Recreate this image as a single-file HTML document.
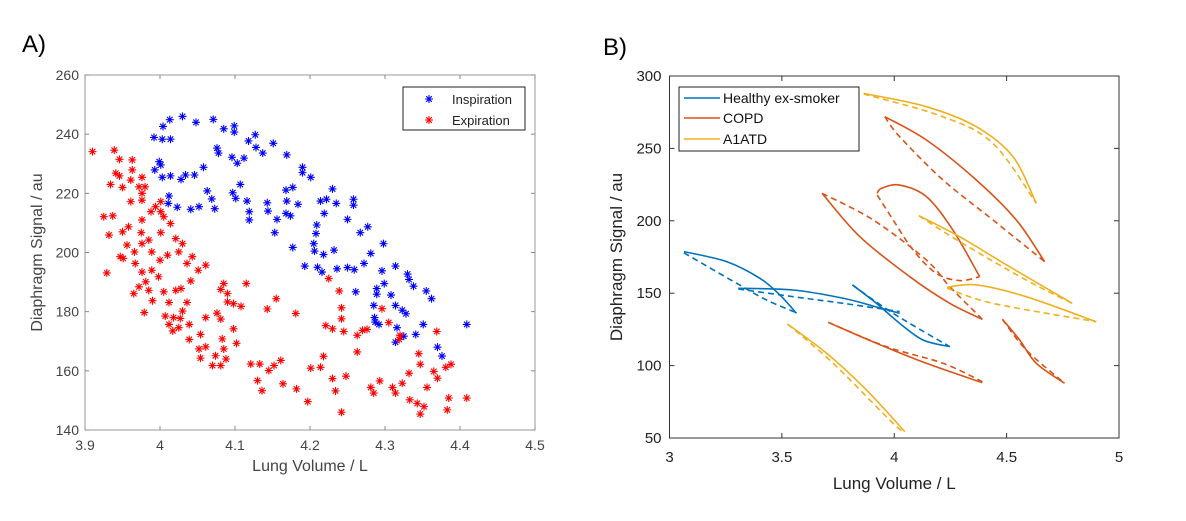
<!DOCTYPE html>
<html><head><meta charset="utf-8"><style>
body{margin:0;background:#fff;width:1186px;height:516px;overflow:hidden}
svg text{font-family:"Liberation Sans",Arial,sans-serif}
</style></head><body>
<svg id="svg" width="1186" height="516" xmlns="http://www.w3.org/2000/svg">
<text x="22" y="52" font-size="24" fill="#000">A)</text>
<text x="603" y="55" font-size="24" fill="#000">B)</text>
<g id="ga"></g>
<g id="gb"></g>
</svg>
<script>
// ---- Panel A data ----
const aXTicks=[3.9,4,4.1,4.2,4.3,4.4,4.5];
const aYTicks=[140,160,180,200,220,240,260];
const inspX=[4.013,4.030,4.048,4.071,4.004,3.992,4.003,4.014,4.085,4.099,4.099,4.127,4.118,4.128,4.137,4.151,4.169,4.076,4.078,4.096,4.112,4.103,3.999,4.001,3.993,4.003,4.014,4.028,4.034,4.046,4.058,4.107,4.097,4.101,4.116,4.063,4.069,4.073,4.012,4.011,4.023,4.041,4.052,4.119,4.119,4.143,4.144,4.156,4.153,4.169,4.168,4.177,4.168,4.174,4.184,4.190,4.190,4.201,4.230,4.214,4.222,4.235,4.219,4.258,4.258,4.250,4.209,4.208,4.205,4.206,4.218,4.232,4.177,4.267,4.277,4.298,4.281,4.272,4.193,4.210,4.216,4.236,4.250,4.259,4.261,4.289,4.289,4.299,4.296,4.314,4.330,4.332,4.338,4.308,4.355,4.362,4.285,4.314,4.323,4.328,4.286,4.287,4.292,4.316,4.314,4.325,4.341,4.351,4.409,4.370,4.376];
const inspY=[244.9,246,244,245,242.6,238.9,238.3,238.3,241.8,242.8,240.7,239.8,237.7,235.5,233.6,236.9,233,235.3,233.6,232.2,231.9,230.2,230.7,229.6,227.9,225.4,225.9,224.7,226.2,226.2,228.8,223,220.2,218.3,217.4,220.8,218.1,214.8,219.1,216.6,215.3,214.6,215.5,213.8,211,216.8,214,211.2,206.7,217.4,221.1,222,213.2,212.4,216.3,228.8,227,225.4,221.5,217.4,218,216.6,213.2,218,216,211.2,209.3,206.4,203,200.5,199.3,200.8,201.7,206.7,208.7,203,199.7,196.3,195.4,195,193.4,194.5,194.9,194.2,186.7,187.8,185.9,189.5,193.8,195.4,192.7,190.9,188.6,185.6,187,184.4,182.1,182.1,180.5,179.3,178,176.5,175.7,174.6,169.7,171.7,172.3,175.7,175.7,168,165];
const expX=[3.910,3.939,3.946,3.963,3.963,3.941,3.946,3.934,3.950,3.961,3.976,3.972,3.980,3.976,3.961,3.976,3.994,4.001,3.988,4.001,4.005,4.014,3.925,3.937,3.976,3.932,3.950,3.958,3.975,3.985,4.001,3.956,3.947,3.951,3.966,3.976,3.989,4.0,4.010,4.021,4.030,4.025,4.043,4.036,4.061,4.051,3.967,3.976,3.989,3.998,3.981,3.929,3.972,3.985,4.005,4.021,4.028,4.041,3.965,3.990,4.012,4.036,4.030,3.979,4.007,4.018,4.027,4.012,4.025,4.017,4.039,4.039,4.061,4.054,4.052,4.061,4.054,4.074,4.085,4.081,4.090,4.090,4.098,4.108,4.115,4.076,4.081,4.098,4.083,4.085,4.070,4.081,4.088,4.102,4.121,4.133,4.130,4.136,4.145,4.152,4.161,4.143,4.155,4.164,4.181,4.182,4.197,4.201,4.214,4.218,4.230,4.234,4.225,4.239,4.242,4.242,4.221,4.230,4.245,4.248,4.242,4.263,4.270,4.276,4.263,4.281,4.285,4.293,4.296,4.305,4.320,4.319,4.310,4.314,4.323,4.332,4.345,4.347,4.333,4.343,4.347,4.352,4.356,4.365,4.370,4.369,4.381,4.388,4.385,4.383,4.409];
const expY=[234.1,234.6,231.5,231.3,227.9,226.8,225.9,223,222,224.5,225.4,222.2,222.2,220,217.2,217.7,215.5,217.2,213.8,213.8,212.1,209.8,212.1,212.4,211,205.9,207,208.7,206.7,204.2,206.7,202.5,198.6,198,200.2,203,200.2,197.4,199.1,204.7,203,200.2,198.6,196.3,195.7,194,196.3,193.4,194,191.8,190.1,193.1,188.4,187.2,186.7,187.2,187.8,190.4,186.1,183.7,183.1,183.1,180.2,179.7,178.5,178,177.7,175.7,174.6,173.5,175.7,170.6,178,172.3,167.4,168.1,164.3,165.1,189.5,187.5,186.1,183.3,182.7,181.8,189.5,179.5,177.5,174.2,170.8,167.4,161.8,161.8,164,169.3,162.3,162.3,156.7,153.3,160.1,161.8,163.5,180.9,184.4,155.6,179.4,153.9,149.6,160.9,161.2,164.9,157.4,153.2,191.2,187,181.3,177.6,175.3,174.2,173.3,158.2,146,172,173.7,174,166.4,154.4,152.5,156.6,181,176.3,172,170.6,154.4,152.5,155.8,159.2,165.8,162.2,150.2,149,145.4,147.9,154.4,159.8,157.5,173.3,161.2,162.2,150.8,146.8,150.8];
// ---- Panel B data ----
const bXTicks=[3,3.5,4,4.5,5];
const bYTicks=[50,100,150,200,250,300];
const healthySolid=[
 [[3.064,178.7],[3.254,171.8],[3.402,160.3],[3.491,148.8],[3.565,136.1]],
 [[3.306,153.4],[3.55,152.2],[3.773,146.5],[3.928,140.2],[4.024,136.1]],
 [[3.814,155.7],[3.921,143],[4.024,129.2],[4.128,117.7],[4.247,113.1]]];
const healthyDashed=[
 [[3.064,177.9],[3.299,156.8],[3.432,145.3],[3.565,136.5]],
 [[3.306,152.9],[3.55,147.6],[3.773,143],[4.024,137.3]],
 [[3.814,155.7],[3.995,136.1],[4.247,113.1]]];
const copdSolid=[
 [[3.958,271.9],[4.143,255.8],[4.365,228.2],[4.543,200.6],[4.669,171.8]],
 [[3.924,219],[3.943,222.4],[4.024,224.7],[4.143,216.7],[4.261,193.6],[4.38,161.4]],
 [[3.679,219],[3.847,189],[4.069,161.4],[4.247,143],[4.392,132]],
 [[3.706,129.9],[3.921,115.4],[4.143,101.6],[4.392,88.2]],
 [[4.481,132],[4.558,117.7],[4.632,101.6],[4.758,87.8]]];
const copdDashed=[
 [[3.958,271.9],[4.024,258.1],[4.217,228.2],[4.439,200.6],[4.669,171.8]],
 [[3.924,217.8],[3.995,200.6],[4.084,179.8],[4.187,163.7],[4.291,158.7],[4.38,161.4]],
 [[3.679,219],[3.906,200.6],[4.143,172.9],[4.247,154.5],[4.392,132]],
 [[3.706,129.9],[3.965,113.1],[4.217,101.6],[4.392,88.9]],
 [[4.481,132],[4.587,110.8],[4.758,87.8]]];
const a1atdSolid=[
 [[3.864,288],[4.143,278.8],[4.365,265],[4.528,244.3],[4.632,212.1]],
 [[4.11,203.5],[4.291,189],[4.513,168.3],[4.792,143]],
 [[4.235,154.1],[4.365,155.7],[4.587,147.6],[4.899,130.3]],
 [[3.525,128.7],[3.699,108.5],[3.876,83.2],[4.047,54.4]]];
const a1atdDashed=[
 [[3.864,287.6],[4.217,271.9],[4.439,253.5],[4.632,212.1]],
 [[4.11,203.5],[4.291,185.6],[4.587,159.1],[4.792,143]],
 [[4.235,153.4],[4.439,143],[4.899,130.3]],
 [[3.525,128.7],[3.728,101.6],[3.995,60.1],[4.047,54.4]]];

const NS="http://www.w3.org/2000/svg";
function mk(parent,tag,attrs,txt){const e=document.createElementNS(NS,tag);for(const k in attrs)e.setAttribute(k,attrs[k]);if(txt!=null)e.textContent=txt;parent.appendChild(e);return e;}

// ---- Panel A ----
const ga=document.getElementById('ga');
const AL=85,AR=535,AT=75,AB=430;
const ax=v=>AL+(v-3.9)/0.6*(AR-AL);
const ay=v=>AB-(v-140)/120*(AB-AT);
let r=mk(ga,'rect',{x:AL,y:AT,width:AR-AL,height:AB-AT,fill:'#fff',stroke:'#999','stroke-width':1});


aXTicks.forEach(t=>{const x=ax(t);
 mk(ga,'line',{x1:x,y1:AB,x2:x,y2:AB-4,stroke:'#888'});mk(ga,'line',{x1:x,y1:AT,x2:x,y2:AT+4,stroke:'#888'});
 const tx=mk(ga,'text',{x:x,y:AB+20,'font-size':14,fill:'#444','text-anchor':'middle'},String(t));
 
 });
aYTicks.forEach(t=>{const y=ay(t);
 mk(ga,'line',{x1:AL,y1:y,x2:AL+4,y2:y,stroke:'#888'});mk(ga,'line',{x1:AR,y1:y,x2:AR-4,y2:y,stroke:'#888'});
 const tx=mk(ga,'text',{x:AL-6,y:y+5,'font-size':14,fill:'#444','text-anchor':'end'},String(t));
 
 });
let xl=mk(ga,'text',{x:(AL+AR)/2,y:471,'font-size':16,fill:'#444','text-anchor':'middle'},'Lung Volume / L');


let yl=mk(ga,'text',{x:0,y:0,'font-size':16,fill:'#444','text-anchor':'middle',transform:`translate(42,${(AT+AB)/2}) rotate(-90)`},'Diaphragm Signal / au');


function star(g,x,y,c,s){const p=`M${x-s},${y}H${x+s}M${x},${y-s}V${y+s}M${x-s*.7},${y-s*.7}L${x+s*.7},${y+s*.7}M${x-s*.7},${y+s*.7}L${x+s*.7},${y-s*.7}`;return mk(g,'path',{d:p,stroke:c,'stroke-width':1.1,fill:'none'});}
const gi=mk(ga,'g',{});


inspX.forEach((v,i)=>{const m=star(gi,ax(v),ay(inspY[i]),'#0000ff',4);
 
 });
const ge=mk(ga,'g',{});


expX.forEach((v,i)=>{const m=star(ge,ax(v),ay(expY[i]),'#ff0000',4);
 
 });
const lga=mk(ga,'g',{});


mk(lga,'rect',{x:403,y:87,width:122,height:43,fill:'#fff',stroke:'#222','stroke-width':1});
star(lga,429,99,'#0000ff',4);star(lga,429,120,'#ff0000',4);
let le1=mk(lga,'text',{x:452,y:104,'font-size':13,fill:'#222'},'Inspiration');


let le2=mk(lga,'text',{x:452,y:125,'font-size':13,fill:'#222'},'Expiration');



// ---- Panel B ----
const gb=document.getElementById('gb');
const BL=669.5,BR=1119,BT=76,BB=438;
const bx=v=>BL+(v-3)/2*(BR-BL);
const by=v=>BB-(v-50)/250*(BB-BT);
let rb=mk(gb,'rect',{x:BL,y:BT,width:BR-BL,height:BB-BT,fill:'#fff',stroke:'#333','stroke-width':1});


bXTicks.forEach(t=>{const x=bx(t);
 mk(gb,'line',{x1:x,y1:BB,x2:x,y2:BB-5,stroke:'#333'});mk(gb,'line',{x1:x,y1:BT,x2:x,y2:BT+5,stroke:'#333'});
 const tx=mk(gb,'text',{x:x,y:BB+24,'font-size':15,fill:'#222','text-anchor':'middle'},String(t));
 
 });
bYTicks.forEach(t=>{const y=by(t);
 mk(gb,'line',{x1:BL,y1:y,x2:BL+5,y2:y,stroke:'#333'});mk(gb,'line',{x1:BR,y1:y,x2:BR-5,y2:y,stroke:'#333'});
 const tx=mk(gb,'text',{x:BL-8,y:y+5,'font-size':15,fill:'#222','text-anchor':'end'},String(t));
 
 });
let xlb=mk(gb,'text',{x:(BL+BR)/2,y:489,'font-size':17,fill:'#222','text-anchor':'middle'},'Lung Volume / L');


let ylb=mk(gb,'text',{x:0,y:0,'font-size':17,fill:'#222','text-anchor':'middle',transform:`translate(622,${(BT+BB)/2}) rotate(-90)`},'Diaphragm Signal / au');


function smooth(pts){const p=pts.map(q=>[bx(q[0]),by(q[1])]);let d=`M${p[0][0]},${p[0][1]}`;
 for(let i=0;i<p.length-1;i++){const p0=p[i-1]||p[i],p1=p[i],p2=p[i+1],p3=p[i+2]||p2;
  const c1=[p1[0]+(p2[0]-p0[0])/6,p1[1]+(p2[1]-p0[1])/6],c2=[p2[0]-(p3[0]-p1[0])/6,p2[1]-(p3[1]-p1[1])/6];
  d+=`C${c1[0]},${c1[1]} ${c2[0]},${c2[1]} ${p2[0]},${p2[1]}`;}return d;}
function drawSet(sets,color,dash,name){sets.forEach(s=>{const e=mk(gb,'path',{d:smooth(s),fill:'none',stroke:color,'stroke-width':1.6});
 if(dash)e.setAttribute('stroke-dasharray','6,4');
 
 });}
drawSet(healthySolid,'#0072BD',false,'healthy-inspiration-line');
drawSet(healthyDashed,'#0072BD',true,'healthy-expiration-line');
drawSet(copdSolid,'#D95319',false,'copd-inspiration-line');
drawSet(copdDashed,'#D95319',true,'copd-expiration-line');
drawSet(a1atdSolid,'#EDB120',false,'a1atd-inspiration-line');
drawSet(a1atdDashed,'#EDB120',true,'a1atd-expiration-line');
const lgb=mk(gb,'g',{});


mk(lgb,'rect',{x:679,y:87,width:180,height:64,fill:'#fff',stroke:'#222','stroke-width':1});
[['Healthy ex-smoker','#0072BD',98],['COPD','#D95319',118],['A1ATD','#EDB120',139]].forEach(e=>{
 mk(lgb,'line',{x1:684,y1:e[2],x2:720,y2:e[2],stroke:e[1],'stroke-width':1.6});
 const t=mk(lgb,'text',{x:723,y:e[2]+5,'font-size':14,fill:'#111'},e[0]);
 
 });
</script>
</body></html>
